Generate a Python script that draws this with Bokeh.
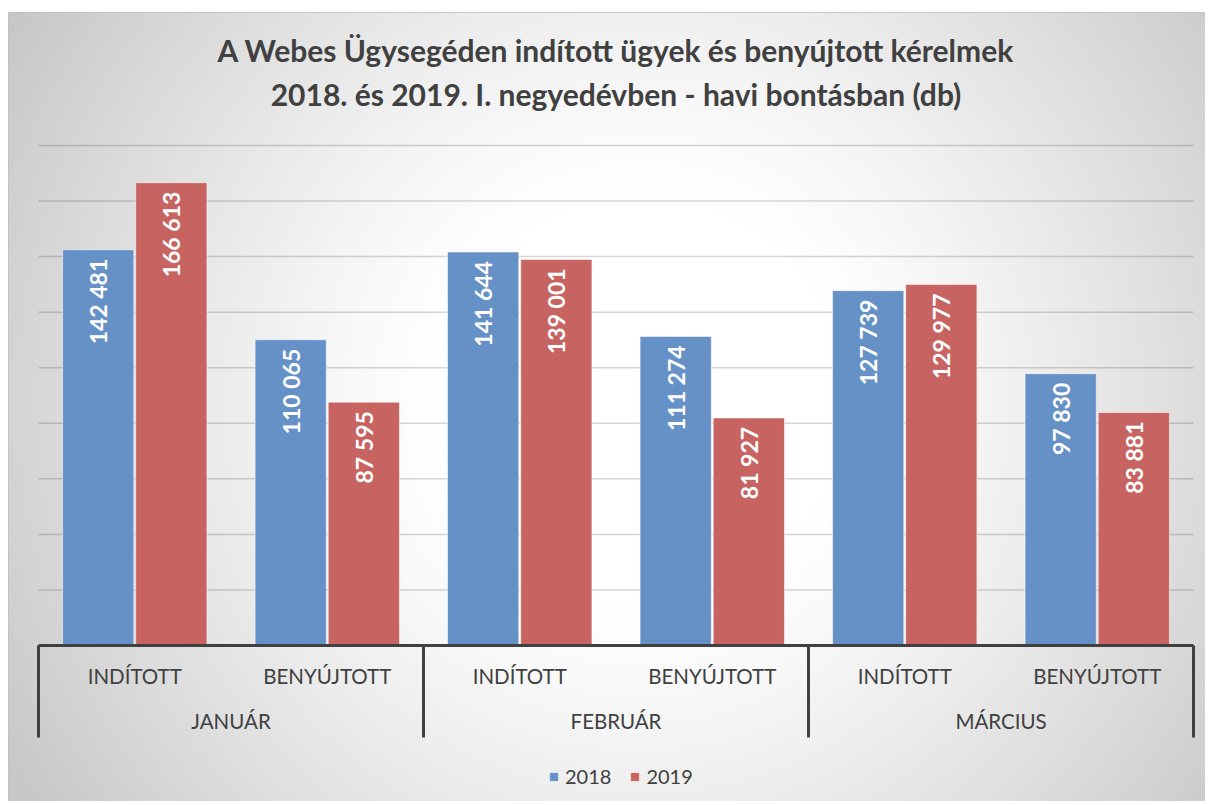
import numpy as np
from bokeh.plotting import figure
from bokeh.models import ColumnDataSource, Legend, LegendItem, Range1d
from bokeh.core.properties import value
from bokeh.embed import file_html
from bokeh.resources import INLINE

# ---------------- data ----------------
title_lines = ["A Webes Ügysegéden indított ügyek és benyújtott kérelmek",
               "2018. és 2019. I. negyedévben - havi bontásban (db)"]
months = ["JANUÁR", "FEBRUÁR", "MÁRCIUS"]
kinds = ["INDÍTOTT", "BENYÚJTOTT"]
years = ["2018", "2019"]
values_2018 = [142481, 110065, 141644, 111274, 127739, 97830]
values_2019 = [166613, 87595, 139001, 81927, 129977, 83881]
grid_values = [20000, 40000, 60000, 80000, 100000, 120000, 140000, 160000, 180000]

# ---------------- styles ----------------
FONT = value("Lato")
BLUE = "#6591C7"
RED = "#C76462"
TXT = "#404040"
W, H = 1205, 801
LEFT, TOP = 8, 12
FW, FH = W - LEFT, H - TOP
PX_X = 192.5          # px per category slot
PX_Y = 500 / 180000   # px per unit
X0 = 30               # frame px of x=0
Y0 = 633              # frame px (from top) of y=0

x_start = -X0 / PX_X
x_end = x_start + FW / PX_X
y_top = Y0 / PX_Y
y_bottom = -(FH - Y0) / PX_Y

p = figure(width=W, height=H, output_backend="svg", toolbar_location=None,
           x_range=Range1d(x_start, x_end), y_range=Range1d(y_bottom, y_top),
           x_axis_type=None, y_axis_type=None,
           min_border=0, min_border_left=LEFT, min_border_top=TOP,
           border_fill_color="white",
           outline_line_color="#bfbfbf", outline_line_width=1)
p.xgrid.visible = False
p.ygrid.visible = False

# ---------------- background gradient ----------------
gh, gw = 395, 599
xs = LEFT + (np.arange(gw) + 0.5) * FW / gw
ys = TOP + (np.arange(gh) + 0.5) * FH / gh
XX, YY = np.meshgrid(xs, ys)
r = np.sqrt((XX - 640) ** 2 + (YY - 400) ** 2) / 735.0
f = np.clip((r - 0.28) / 0.72, 0, 1) ** 1.2
c = 255 - 56 * f
c = np.clip(c, 0, 255).astype(np.uint8)
rgba = np.zeros((gh, gw, 4), dtype=np.uint8)
rgba[..., 0] = c
rgba[..., 1] = c
rgba[..., 2] = c
rgba[..., 3] = 255
img = np.flipud(rgba).copy().view(np.uint32).reshape(gh, gw)
p.image_rgba(image=[img], x=x_start, y=y_bottom, dw=x_end - x_start, dh=y_top - y_bottom)

# ---------------- gridlines ----------------
n_slots = len(months) * len(kinds)
p.segment(x0=[0] * len(grid_values), x1=[n_slots] * len(grid_values),
          y0=grid_values, y1=grid_values, line_color="black", line_alpha=0.16,
          line_width=1.5)

# ---------------- bars ----------------
centers = [m * len(kinds) + k + 0.5 for m in range(len(months)) for k in range(len(kinds))]
fmt = lambda v: f"{v:,}".replace(",", " ")
src18 = ColumnDataSource(dict(x=[c_ - 0.19 for c_ in centers], top=values_2018,
                              lab=[fmt(v) for v in values_2018]))
src19 = ColumnDataSource(dict(x=[c_ + 0.19 for c_ in centers], top=values_2019,
                              lab=[fmt(v) for v in values_2019]))
r18 = p.vbar(x="x", top="top", bottom=0, width=0.37, source=src18,
             fill_color=BLUE, line_color="white", line_alpha=0.55, line_width=1)
r19 = p.vbar(x="x", top="top", bottom=0, width=0.37, source=src19,
             fill_color=RED, line_color="white", line_alpha=0.55, line_width=1)

for src in (src18, src19):
    p.text(x="x", y="top", text="lab", source=src, angle=np.pi / 2,
           y_offset=9, text_align="right", text_baseline="middle",
           text_font=FONT, text_font_style="bold", text_font_size="23px",
           text_color="white")

# ---------------- category axis ----------------
p.segment(x0=[0], x1=[n_slots], y0=[0], y1=[0], line_color=TXT, line_width=3)
sep_x = [m * len(kinds) for m in range(len(months) + 1)]
p.segment(x0=sep_x, x1=sep_x, y0=[0] * len(sep_x), y1=[-33120] * len(sep_x),
          line_color=TXT, line_width=3)
p.text(x=centers, y=[-10800] * len(centers),
       text=[kinds[i % len(kinds)] for i in range(len(centers))],
       text_align="center", text_baseline="middle", text_font=FONT,
       text_font_size="20.5px", text_color=TXT)
month_centers = [m * len(kinds) + len(kinds) / 2 for m in range(len(months))]
p.text(x=month_centers, y=[-27000] * len(months), text=months,
       text_align="center", text_baseline="middle", text_font=FONT,
       text_font_size="20.5px", text_color=TXT)

# ---------------- title ----------------
p.text(x=[n_slots / 2] * 2, y=[214560, 198720], text=title_lines,
       text_align="center", text_baseline="middle", text_font=FONT,
       text_font_style="bold", text_font_size="30px", text_color=TXT)

# ---------------- legend ----------------
legend = Legend(items=[LegendItem(label=years[0], renderers=[r18]),
                       LegendItem(label=years[1], renderers=[r19])],
                orientation="horizontal", location=(540, 13),
                background_fill_alpha=0, border_line_alpha=0,
                label_text_font="Lato", label_text_font_size="20px",
                label_text_color=TXT, glyph_width=11, glyph_height=11,
                label_standoff=6, spacing=18, padding=0, margin=0)
p.add_layout(legend)

open("out.html", "w").write(file_html(p, INLINE))
